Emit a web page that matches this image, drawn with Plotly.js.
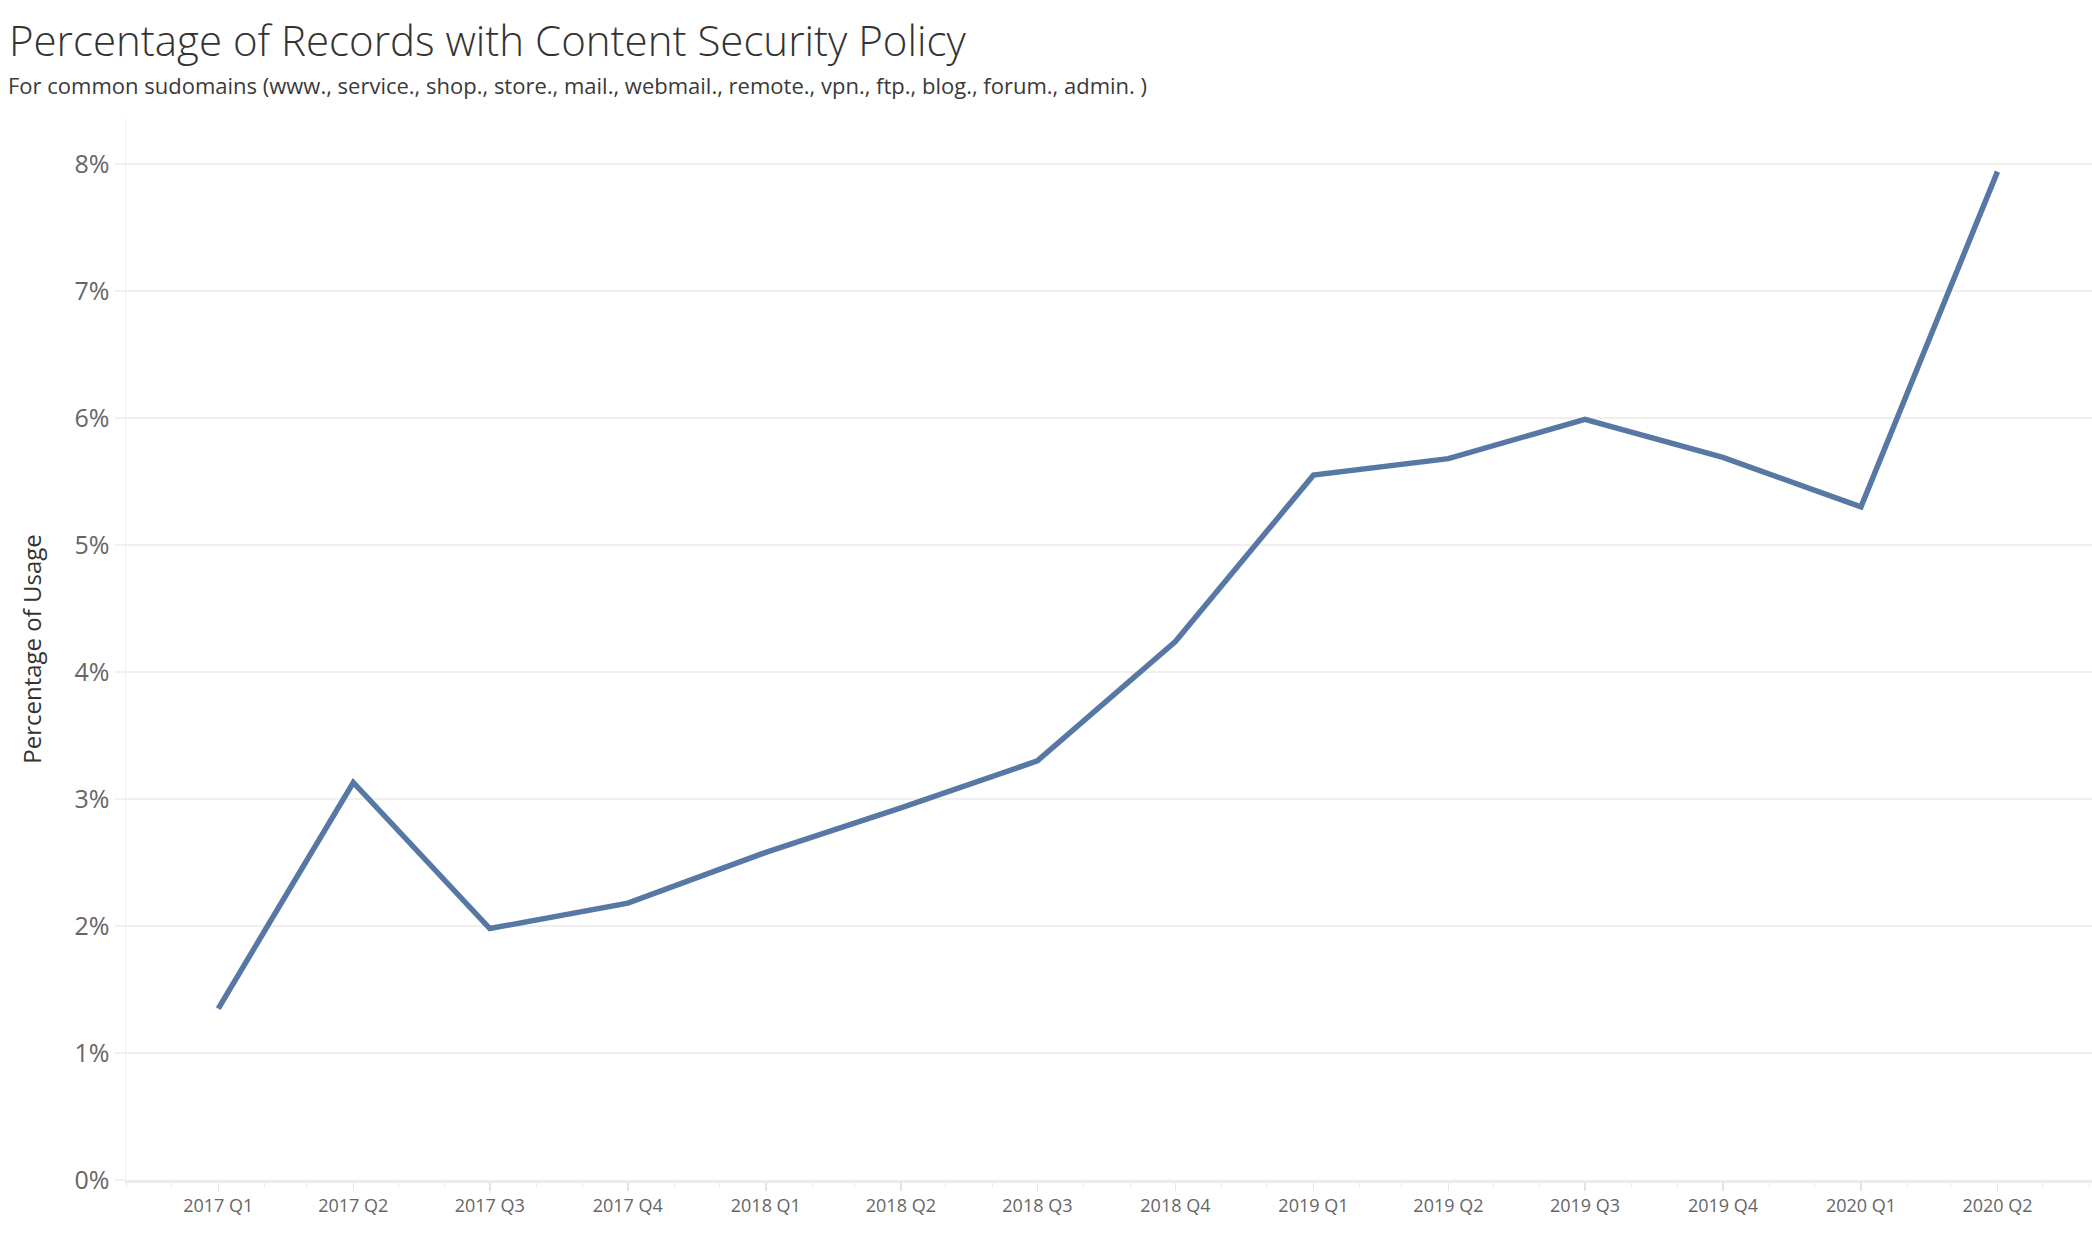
<!DOCTYPE html>
<html>
<head>
<meta charset="utf-8">
<script src="https://cdn.plot.ly/plotly-3.0.1.min.js"></script>
<style>
  html, body { margin: 0; padding: 0; background: #ffffff; }
  #chart { width: 2092px; height: 1240px; }
</style>
</head>
<body>
<div id="chart"></div>
<script>
// Quarter labels (tick text)
const quarterLabels = ['2017 Q1', '2017 Q2', '2017 Q3', '2017 Q4',
                       '2018 Q1', '2018 Q2', '2018 Q3', '2018 Q4',
                       '2019 Q1', '2019 Q2', '2019 Q3', '2019 Q4',
                       '2020 Q1', '2020 Q2'];
// Quarter start dates
const quarterDates = ['2017-01-01', '2017-04-01', '2017-07-01', '2017-10-01',
                      '2018-01-01', '2018-04-01', '2018-07-01', '2018-10-01',
                      '2019-01-01', '2019-04-01', '2019-07-01', '2019-10-01',
                      '2020-01-01', '2020-04-01'];
// Percentage of records with CSP (%)
const cspPercent = [1.35, 3.13, 1.98, 2.18,
                    2.58, 2.93, 3.30, 4.24,
                    5.55, 5.68, 5.99, 5.69,
                    5.30, 7.94];
// Y axis ticks and labels
const yTicks = [0, 1, 2, 3, 4, 5, 6, 7, 8];
const yTickLabels = ['0%', '1%', '2%', '3%', '4%', '5%', '6%', '7%', '8%'];

const titleText = 'Percentage of Records with Content Security Policy';
const subtitleText = 'For common sudomains (www., service., shop., store., mail., webmail., remote., vpn., ftp., blog., forum., admin. )';

const FONT = '"Open Sans", Lato, sans-serif';

const trace = {
  type: 'scatter',
  mode: 'lines',
  x: quarterDates,
  y: cspPercent,
  line: { color: '#5778a4', width: 5.5, shape: 'linear' },
  hoverinfo: 'skip'
};

const layout = {
  width: 2092,
  height: 1240,
  paper_bgcolor: '#ffffff',
  plot_bgcolor: '#ffffff',
  margin: { l: 126, r: 0, t: 118, b: 60 },
  showlegend: false,
  font: { family: FONT, color: '#333333' },
  title: {
    text: titleText,
    font: { family: FONT, size: 42, color: '#333333', weight: 300 },
    x: 0.0043, xanchor: 'left', xref: 'container',
    y: 0.955, yanchor: 'bottom', yref: 'container'
  },
  annotations: [{
    text: subtitleText,
    xref: 'paper', yref: 'paper',
    x: -0.0612, xanchor: 'left',
    y: 1.0311, yanchor: 'middle',
    showarrow: false,
    font: { family: FONT, size: 22, color: '#3a3a3a' }
  }],
  xaxis: {
    type: 'date',
    range: ['2016-10-31 12:00', '2020-06-03'],
    tickmode: 'array',
    tickvals: quarterDates,
    ticktext: quarterLabels,
    ticks: 'outside',
    ticklen: 8,
    tickwidth: 1.5,
    tickcolor: '#e4e4e4',
    tickfont: { family: FONT, size: 18, color: '#666666' },
    showgrid: false,
    zeroline: false,
    showline: true,
    linecolor: '#ebebeb',
    linewidth: 2.5,
    minor: {
      tickmode: 'linear',
      tick0: '2016-11-01',
      dtick: 'M1',
      ticks: 'outside',
      ticklen: 4,
      tickwidth: 1,
      tickcolor: '#e6e6e6',
      showgrid: false
    },
    fixedrange: true
  },
  yaxis: {
    range: [0, 8.362],
    tickmode: 'array',
    tickvals: yTicks,
    ticktext: yTickLabels,
    ticks: 'outside',
    ticklen: 10,
    tickwidth: 1.5,
    tickcolor: '#f0f0f0',
    tickfont: { family: FONT, size: 25, color: '#666666' },
    showgrid: true,
    gridcolor: '#efefef',
    gridwidth: 1.5,
    zeroline: false,
    showline: true,
    linecolor: '#f0f0f0',
    linewidth: 1.5,
    title: {
      text: 'Percentage of Usage',
      font: { family: FONT, size: 24, color: '#333333' },
      standoff: 26
    },
    automargin: false,
    fixedrange: true
  }
};

Plotly.newPlot('chart', [trace], layout, { staticPlot: true, displayModeBar: false });
</script>
</body>
</html>
